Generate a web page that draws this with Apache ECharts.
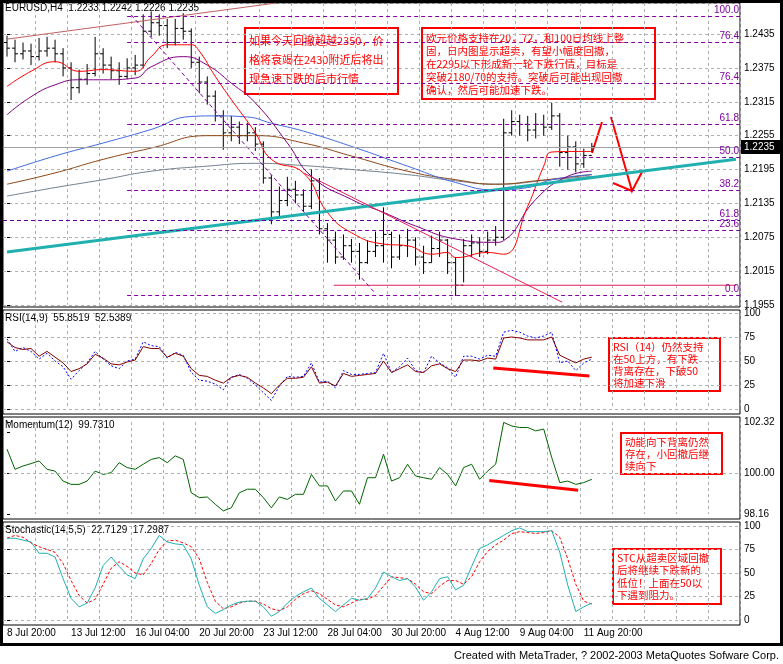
<!DOCTYPE html>
<html>
<head>
<meta charset="utf-8">
<title>EURUSD H4</title>
<script src="https://cdn.jsdelivr.net/npm/echarts@6/dist/echarts.min.js"></script>
<style>body{margin:0;background:#fff}</style>
</head>
<body>
<div id="main" style="width:783px;height:664px;"></div>
<script>
// one category = 8 hours, labels every 8 categories
var xLabels = ['8 Jul 20:00','13 Jul 12:00','16 Jul 04:00','20 Jul 20:00','23 Jul 12:00','28 Jul 04:00','30 Jul 20:00','4 Aug 12:00','9 Aug 04:00','11 Aug 20:00'];
var slots = 92;

var open  = [1.2420,1.2410,1.2400,1.2405,1.2395,1.2405,1.2410,1.2400,1.2375,1.2340,1.2355,1.2365,1.2400,1.2380,1.2370,1.2360,1.2375,1.2380,1.2440,1.2455,1.2450,1.2420,1.2445,1.2440,1.2385,1.2350,1.2325,1.2290,1.2260,1.2270,1.2255,1.2260,1.2240,1.2180,1.2120,1.2140,1.2160,1.2150,1.2130,1.2175,1.2090,1.2070,1.2040,1.2060,1.2050,1.2030,1.2050,1.2060,1.2080,1.2040,1.2060,1.2070,1.2040,1.2030,1.2055,1.2070,1.2030,1.1990,1.2060,1.2065,1.2050,1.2070,1.2075,1.2260,1.2280,1.2275,1.2265,1.2275,1.2270,1.2290,1.2225,1.2235,1.2205,1.2220];
var close = [1.2410,1.2400,1.2405,1.2395,1.2405,1.2410,1.2400,1.2375,1.2340,1.2355,1.2365,1.2400,1.2380,1.2370,1.2360,1.2375,1.2380,1.2440,1.2455,1.2450,1.2420,1.2445,1.2440,1.2385,1.2350,1.2325,1.2290,1.2260,1.2270,1.2255,1.2260,1.2240,1.2180,1.2120,1.2140,1.2160,1.2150,1.2130,1.2175,1.2090,1.2070,1.2040,1.2060,1.2050,1.2030,1.2050,1.2060,1.2080,1.2040,1.2060,1.2070,1.2040,1.2030,1.2055,1.2070,1.2030,1.1990,1.2060,1.2065,1.2050,1.2070,1.2075,1.2260,1.2280,1.2275,1.2265,1.2275,1.2270,1.2290,1.2225,1.2235,1.2205,1.2220,1.2235];
var high  = [1.2432,1.2425,1.2420,1.2418,1.2428,1.2430,1.2425,1.2410,1.2385,1.2372,1.2382,1.2430,1.2410,1.2395,1.2385,1.2392,1.2398,1.2470,1.2475,1.2470,1.2462,1.2462,1.2472,1.2445,1.2395,1.2360,1.2335,1.2300,1.2290,1.2280,1.2278,1.2270,1.2245,1.2185,1.2165,1.2182,1.2175,1.2160,1.2195,1.2180,1.2100,1.2085,1.2080,1.2072,1.2065,1.2070,1.2085,1.2128,1.2085,1.2080,1.2090,1.2075,1.2060,1.2078,1.2085,1.2072,1.2040,1.2072,1.2080,1.2075,1.2085,1.2095,1.2285,1.2300,1.2292,1.2290,1.2295,1.2292,1.2313,1.2295,1.2255,1.2245,1.2232,1.2242];
var low   = [1.2395,1.2385,1.2390,1.2380,1.2388,1.2395,1.2385,1.2360,1.2318,1.2330,1.2345,1.2360,1.2365,1.2355,1.2345,1.2355,1.2362,1.2375,1.2430,1.2432,1.2410,1.2415,1.2425,1.2375,1.2330,1.2310,1.2280,1.2230,1.2245,1.2240,1.2245,1.2228,1.2170,1.2098,1.2110,1.2130,1.2135,1.2120,1.2125,1.2080,1.2030,1.2028,1.2035,1.2030,1.2000,1.2028,1.2040,1.2030,1.2020,1.2035,1.2040,1.2025,1.2010,1.2030,1.2040,1.2010,1.1971,1.1995,1.2040,1.2040,1.2045,1.2060,1.2070,1.2255,1.2255,1.2245,1.2250,1.2255,1.2265,1.2200,1.2195,1.2190,1.2198,1.2226];

// moving averages, [category, price]
var maRed    = [[0,1.2342],[3,1.2369],[6,1.2386],[9,1.2369],[12,1.2372],[16,1.2369],[18,1.2395],[20,1.2416],[23,1.2416],[24,1.2405],[26,1.2360],[28,1.2319],[31,1.2260],[33,1.2213],[37,1.2189],[40,1.2119],[43,1.2083],[47,1.2063],[50,1.2060],[53,1.2045],[55,1.2048],[56,1.2039],[60,1.2048],[62,1.2045],[65,1.2130],[67,1.2201],[68,1.2226],[71,1.2227],[73,1.2227]];
var maPurple = [[0,1.2292],[3,1.2324],[6,1.2345],[9,1.2354],[12,1.2354],[16,1.2357],[18,1.2377],[22,1.2395],[25,1.2380],[28,1.2348],[31,1.2313],[35,1.2242],[38,1.2183],[43,1.2142],[47,1.2119],[51,1.2095],[56,1.2072],[61,1.2066],[62,1.2069],[66,1.2142],[70,1.2183],[73,1.2192]];
var maBlue   = [[0,1.2192],[6,1.2219],[12,1.2242],[18,1.2266],[23,1.2289],[26,1.2290],[30,1.2288],[33,1.2277],[37,1.2263],[43,1.2236],[50,1.2201],[56,1.2172],[61,1.2159],[65,1.2163],[68,1.2177],[73,1.2186]];
var maBrown  = [[0,1.2169],[6,1.2189],[12,1.2213],[18,1.2233],[25,1.2255],[31,1.2255],[37,1.2242],[43,1.2219],[50,1.2192],[56,1.2177],[61,1.2169],[66,1.2175],[73,1.2186]];
var maGray   = [[0,1.2148],[6,1.2163],[12,1.2177],[18,1.2192],[25,1.2201],[31,1.2206],[37,1.2202],[43,1.2195],[50,1.2186],[56,1.2175],[61,1.2169],[68,1.2177],[73,1.2183]];

var fibLevels = [[1.2467,'100.0'],[1.2420,'76.4'],[1.2348,'76.4'],[1.2276,'61.8'],[1.2217,'50.0'],[1.2159,'38.2'],[1.2088,'23.6'],[1.1972,'0.0']];

var rsi    = [70,64,62,63,55,60,54,48,39,42,47,57,53,47,46,49,51,65,63,63,54,58,55,42,35,34,30,27,33,35,33,27,22,16,25,32,32,33,44,27,28,24,37,34,35,36,37,50,38,42,46,39,38,45,47,42,39,51,51,50,53,52,74,75,74,72,72,72,75,56,52,48,52,54];
var rsiSig = [73,60,64,60,52,58,50,44,31,40,48,60,52,45,42,50,52,70,66,65,53,59,56,38,30,29,26,20,33,36,32,25,17,9,24,34,33,34,48,28,29,22,40,36,36,37,38,58,38,44,53,40,38,55,48,43,33,55,55,52,56,55,80,82,80,76,74,76,80,48,50,40,48,52];
var mom    = [101.09,100.18,100.33,100.44,100.56,100.18,100.10,99.65,99.50,99.50,99.65,100.10,99.95,100.03,100.48,100.26,100.18,100.41,100.63,100.71,100.48,100.79,100.63,99.12,98.90,98.93,98.60,98.30,98.44,99.12,99.28,99.28,98.90,98.44,98.93,98.82,99.05,99.05,99.95,99.43,99.43,98.75,99.20,99.20,98.60,99.80,99.80,100.86,99.65,99.80,100.41,99.88,99.80,99.73,100.26,99.95,99.43,100.26,100.41,99.73,100.10,100.41,102.30,102.14,102.07,102.07,101.92,102.00,100.71,99.58,99.65,99.50,99.58,99.73];
var stoK   = [87,87,85,83,71,71,67,44,23,14,18,34,58,67,57,48,44,65,76,90,83,81,80,65,37,14,7,11,16,19,20,20,14,4,9,18,25,30,34,23,16,9,16,23,21,23,34,51,46,42,44,35,21,30,44,46,32,37,57,76,80,85,90,95,98,94,94,94,95,72,37,9,14,18];
var stoD   = [87,90,88,82,78,75,72,60,42,26,18,22,38,55,62,57,50,48,60,75,84,85,82,78,65,40,20,12,14,18,20,20,17,12,10,14,22,28,31,28,22,16,14,18,22,22,26,36,46,45,44,38,30,28,36,42,42,38,46,62,73,80,85,92,94,93,92,93,95,88,65,38,20,17];

// hand drawn lines
var trendTeal  = [[0,1.2049],[91,1.2213]];
var trendTop   = [[0,1.2426],[33.6,1.2490]];
var trendDown  = [[37,1.2189],[69.3,1.1960]];
var floorLine  = [[40.8,1.1990],[91,1.1990]];
var fibDiag    = [[15.5,1.2469],[46,1.1975]];
var rsiDiv     = [[60.7,42.8],[72.7,34.4]];
var momDiv     = [[60.2,99.68],[71.3,99.23]];

var cats = [];
for (var i = 0; i < slots; i++) cats.push(i % 8 === 0 && xLabels[i / 8] ? xLabels[i / 8] : '');
var ohlc = close.map(function (c, i) { return [i, open[i], c, low[i], high[i]]; });

var F = 'Liberation Sans';
var grids = [
  {left: 3, right: 43, top: 3, height: 302},
  {left: 3, right: 43, top: 313, height: 96},
  {left: 3, right: 43, top: 422, height: 92},
  {left: 3, right: 43, top: 526, height: 94}
];
var gridLine = {color: '#b0b0b0', type: [3, 3], width: 1};
// value x axes 0-3 carry the data, category axes 4-7 only labels and grid lines
function xa(k) {
  return {type: 'value', gridIndex: k, show: false, position: 'bottom', min: -0.5, max: slots - 0.5,
    axisLine: {show: false}, axisTick: {show: false},
    axisLabel: {show: false}, splitLine: {show: false}};
}
function xc(k) {
  return {type: 'category', gridIndex: k, position: 'bottom', data: cats, boundaryGap: true,
    axisLine: {show: false}, axisTick: {show: false},
    axisLabel: {show: k === 3, interval: 0, align: 'left', margin: 8, color: '#000', fontFamily: F, fontSize: 10},
    splitLine: {show: true, interval: function (i) { return i % 4 === 0 && i > 0; }, lineStyle: gridLine}};
}
function ya(k, o) {
  var base = {type: 'value', gridIndex: k, position: 'right', scale: true,
    axisLine: {show: false}, axisTick: {show: true, length: 3, lineStyle: {color: '#000'}},
    axisLabel: {color: '#000', fontFamily: F, fontSize: 10, margin: 4, showMaxLabel: true},
    splitLine: {show: true, lineStyle: gridLine}};
  return Object.assign(base, o);
}
function line(k, data, color, extra) {
  return Object.assign({type: 'line', xAxisIndex: k, yAxisIndex: k, data: data, symbol: 'none',
    lineStyle: {color: color, width: 1}, silent: true}, extra || {});
}
function idx(arr) { return arr.map(function (v, i) { return [i, v]; }); }

var fibLines = fibLevels.map(function (f) {
  return [{coord: [15, f[0]], label: {show: true, formatter: f[1], position: 'insideEndTop', color: '#8000a0', fontFamily: F, fontSize: 10, distance: 1},
    lineStyle: {color: '#8000a0', type: [4, 3], width: 1}}, {coord: [91.5, f[0]]}];
});
fibLines.push([{coord: [-0.5, 1.2105], label: {show: true, formatter: '61.8', position: 'insideEndTop', color: '#8000a0', fontFamily: F, fontSize: 10, distance: 1},
  lineStyle: {color: '#6000a0', type: [4, 3], width: 1}}, {coord: [91.5, 1.2105]}]);
fibLines.push([{coord: [-0.5, 1.2235], lineStyle: {color: '#a0a0a0', type: 'solid', width: 1}}, {coord: [91.5, 1.2235]}]);

var option = {
  animation: false,
  backgroundColor: '#fff',
  grid: grids,
  xAxis: [xa(0), xa(1), xa(2), xa(3), xc(0), xc(1), xc(2), xc(3)],
  yAxis: [
    ya(0, {min: 1.1955, max: 1.2490, interval: 0.006, axisLabel: {color: '#000', fontFamily: F, fontSize: 10, margin: 4, showMaxLabel: false, formatter: function (v) { return v.toFixed(4); }}}),
    ya(1, {min: 0, max: 100, interval: 25}),
    ya(2, {min: 98.16, max: 102.32, interval: 1.84, splitLine: {show: false},
      axisLabel: {color: '#000', fontFamily: F, fontSize: 10, margin: 4, showMaxLabel: true,
        formatter: function (v) { return Math.abs(v - 101.84) < 0.01 ? '' : v.toFixed(2); }}}),
    ya(3, {min: 0, max: 100, interval: 25})
  ],
  series: [
    line(0, maGray, '#708090', {smooth: true}),
    line(0, maBrown, '#8b4513', {smooth: true}),
    line(0, maBlue, '#4169e1', {smooth: true}),
    line(0, maPurple, '#800080', {smooth: true}),
    line(0, maRed, '#ff0000', {smooth: true, markLine: {symbol: 'none', silent: true, data: fibLines}}),
    line(0, trendTeal, '#20b0b0', {lineStyle: {color: '#20b0b0', width: 3}}),
    line(0, trendTop, '#c06060'),
    line(0, trendDown, '#e0205a'),
    line(0, floorLine, '#e0205a'),
    line(0, fibDiag, '#8000a0', {lineStyle: {color: '#8000a0', width: 1, type: [4, 3]}}),
    {
      type: 'custom', xAxisIndex: 0, yAxisIndex: 0, data: ohlc, silent: true,
      renderItem: function (params, api) {
        var x = api.value(0);
        var o = api.coord([x, api.value(1)]), c = api.coord([x, api.value(2)]);
        var l = api.coord([x, api.value(3)]), h = api.coord([x, api.value(4)]);
        var st = {stroke: '#000', lineWidth: 1};
        return {type: 'group', children: [
          {type: 'line', shape: {x1: h[0], y1: h[1], x2: l[0], y2: l[1]}, style: st},
          {type: 'line', shape: {x1: o[0] - 3, y1: o[1], x2: o[0], y2: o[1]}, style: st},
          {type: 'line', shape: {x1: c[0], y1: c[1], x2: c[0] + 3, y2: c[1]}, style: st}
        ]};
      }
    },
    line(1, idx(rsiSig), '#0000ff', {lineStyle: {color: '#0000ff', width: 1, type: [2, 2]}}),
    line(1, idx(rsi), '#800000'),
    line(1, rsiDiv, '#ff0000', {lineStyle: {color: '#ff0000', width: 3}}),
    line(2, idx(mom), '#006400', {markLine: {symbol: 'none', silent: true, label: {show: false},
      data: [[{coord: [-0.5, 100], lineStyle: {color: '#b0b0b0', type: [3, 3], width: 1}}, {coord: [91.5, 100]}]]}}),
    line(2, momDiv, '#ff0000', {lineStyle: {color: '#ff0000', width: 3}}),
    line(3, idx(stoD), '#ff0000', {lineStyle: {color: '#ff0000', width: 1, type: [3, 2]}}),
    line(3, idx(stoK), '#20b0b0')
  ]
};

function box(x, y, w, h, txt, fs, lh) {
  return {type: 'group', left: x, top: y, children: [
    {type: 'rect', shape: {x: 0, y: 0, width: w, height: h}, style: {fill: '#fff', stroke: '#ff0000', lineWidth: 2}},
    {type: 'text', x: 4, y: 3, style: {text: txt, fill: '#ff0000', font: fs + 'px "Noto Sans CJK SC"', lineHeight: lh}}
  ]};
}
option.graphic = [
  {type: 'rect', shape: {x: 1.5, y: 1.5, width: 780, height: 643}, style: {fill: 'none', stroke: '#000', lineWidth: 3}},
  {type: 'rect', shape: {x: 3, y: 3, width: 737, height: 304}, style: {fill: 'none', stroke: '#000', lineWidth: 1}},
  {type: 'rect', shape: {x: 3, y: 310, width: 737, height: 104}, style: {fill: 'none', stroke: '#000', lineWidth: 1}},
  {type: 'rect', shape: {x: 3, y: 417, width: 737, height: 102}, style: {fill: 'none', stroke: '#000', lineWidth: 1}},
  {type: 'rect', shape: {x: 3, y: 522, width: 737, height: 103}, style: {fill: 'none', stroke: '#000', lineWidth: 1}},
  {type: 'text', x: 5, y: 3, style: {text: 'EURUSD,H4  1.2233 1.2242 1.2226 1.2235', fill: '#000', font: '10px "Liberation Sans"'}},
  {type: 'text', x: 5, y: 313, style: {text: 'RSI(14,9)  55.8519  52.5389', fill: '#000', font: '10px "Liberation Sans"'}},
  {type: 'text', x: 5, y: 420, style: {text: 'Momentum(12)  99.7310', fill: '#000', font: '10px "Liberation Sans"'}},
  {type: 'text', x: 5, y: 525, style: {text: 'Stochastic(14,5,5)  22.7129  17.2987', fill: '#000', font: '10px "Liberation Sans"'}},
  {type: 'text', right: 4, top: 650, style: {text: 'Created with MetaTrader, ? 2002-2003 MetaQuotes Sofware Corp.', fill: '#000', font: '11px "Liberation Sans"'}},
  {type: 'rect', shape: {x: 741, y: 140, width: 40, height: 14}, style: {fill: '#000'}},
  {type: 'text', x: 744, y: 142, style: {text: '1.2235', fill: '#fff', font: '10px "Liberation Sans"'}},
  {type: 'polyline', shape: {points: [[592, 153], [602, 122]]}, style: {stroke: '#ff0000', lineWidth: 2, fill: 'none'}},
  {type: 'polyline', shape: {points: [[611, 117], [632, 191], [642, 172]]}, style: {stroke: '#ff0000', lineWidth: 2, fill: 'none'}},
  {type: 'polyline', shape: {points: [[613, 183], [632, 191]]}, style: {stroke: '#ff0000', lineWidth: 2, fill: 'none'}},
  box(244, 27, 153, 66, '如果今天回撤超越2350，价\n格将衰竭在2430附近后将出\n现急速下跌的后市行情', 11, 19),
  box(421, 27, 233, 71, '欧元价格支持在20，72，和100日均线上整\n固，日内图显示超卖，有望小幅度回撤，\n在2295以下形成新一轮下跌行情，目标是\n突破2180/70的支持。突破后可能出现回撤\n确认，然后可能加速下跌。', 10.5, 13.2),
  box(608, 337, 111, 53, 'RSI（14）仍然支持\n在50上方，有下跌\n背离存在，下破50\n将加速下滑', 10.5, 12),
  box(620, 432, 101, 41, '动能向下背离仍然\n存在，小回撤后继\n续向下', 10.5, 12),
  box(612, 548, 108, 55, 'STC从超卖区域回撤\n后将继续下跌新的\n低位！上面在50以\n下遇到阻力。', 10.5, 12.3)
];

var myChart = echarts.init(document.getElementById('main'));
myChart.setOption(option);
</script>
</body>
</html>
